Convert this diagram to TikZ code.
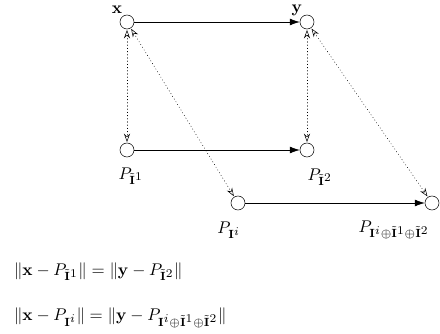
\documentclass[tikz,border=0pt]{standalone}
\usepackage{amsmath,amssymb}
\usepackage{tikz}
\usetikzlibrary{arrows.meta}
\usepackage{xcolor}

\begin{document}
\begin{tikzpicture}[x=0.75pt,y=-0.75pt,>={Latex[length=2.6mm,width=1.8mm]},line cap=round,
  pt/.style={circle,draw,fill=white,minimum size=10.5pt,inner sep=0pt},
  lbl/.style={scale=1.27,inner sep=1pt},
  proj/.style={dotted,{Stealth[open,length=2.2mm,width=1.6mm]}-{Stealth[open,length=2.2mm,width=1.6mm]},shorten <=0.5pt,shorten >=0.5pt}]
\useasboundingbox (0,0) rectangle (440,334);
\node[pt] (x) at (127,22) {};
\node[pt] (y) at (307,22) {};
\node[pt] (p1) at (127,150) {};
\node[pt] (p2) at (307,150) {};
\node[pt] (pi) at (238,203) {};
\node[pt] (ps) at (432,203) {};
\draw[->] (x) -- (y);
\draw[->] (p1) -- (p2);
\draw[->] (pi) -- (ps);
\draw[proj] (x) -- (p1);
\draw[proj] (y) -- (p2);
\draw[proj] (x) -- (pi);
\draw[proj] (y) -- (ps);
\node[lbl] (xl) at (117,10) {$\mathbf{x}$};
\node[lbl] (yl) at (297,10) {$\mathbf{y}$};
\node[lbl] (p1l) at (131,176) {$P_{\tilde{\mathbf{I}}^{\scriptstyle 1}}$};
\node[lbl] (p2l) at (320,177) {$P_{\tilde{\mathbf{I}}^{\scriptstyle 2}}$};
\node[lbl] (pil) at (229,230) {$P_{\mathbf{I}^{\scriptstyle i}}$};
\node[lbl] (psl) at (394,230) {$P_{\mathbf{I}^{\scriptstyle i}\oplus\tilde{\mathbf{I}}^{\scriptstyle 1}\oplus\tilde{\mathbf{I}}^{\scriptstyle 2}}$};
\node[lbl,anchor=west] (eq1) at (12,272) {$\|\mathbf{x}-P_{\tilde{\mathbf{I}}^{\scriptstyle 1}}\|=\|\mathbf{y}-P_{\tilde{\mathbf{I}}^{\scriptstyle 2}}\|$};
\node[lbl,anchor=west] (eq2) at (12,318) {$\|\mathbf{x}-P_{\mathbf{I}^{\scriptstyle i}}\|=\|\mathbf{y}-P_{\mathbf{I}^{\scriptstyle i}\oplus\tilde{\mathbf{I}}^{\scriptstyle 1}\oplus\tilde{\mathbf{I}}^{\scriptstyle 2}}\|$};
\end{tikzpicture}
\end{document}
